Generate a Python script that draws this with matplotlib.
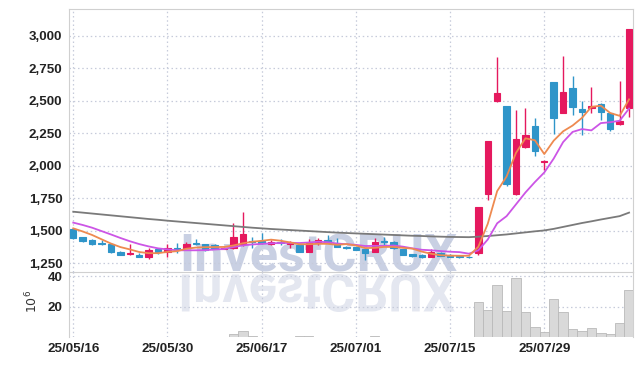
import matplotlib
matplotlib.use("Agg")
import matplotlib.pyplot as plt
import numpy as np
from matplotlib.textpath import TextPath
from matplotlib.patches import PathPatch
from matplotlib.font_manager import FontProperties
from matplotlib.transforms import Affine2D

# ---------------- data ----------------
dates = ['25/05/16', '25/05/30', '25/06/17', '25/07/01', '25/07/15', '25/07/29']
tick_idx = [0, 10, 20, 30, 40, 50]

opens = [1512, 1453, 1427, 1409, 1401, 1339, 1319, 1316, 1296, 1360,
         1334, 1368, 1370, 1409, 1396, 1390, 1362, 1366, 1395, 1420,
         1424, 1399, 1413, 1399, 1393, 1339, 1416, 1429, 1404, 1378,
         1373, 1358, 1336, 1420, 1417, 1358, 1322, 1314, 1298, 1332,
         1314, 1310, 1300, 1331, 1781, 2500, 2461, 1781, 2148, 2307,
         2030, 2644, 2410, 2600, 2438, 2446, 2477, 2407, 2323, 2443]
highs = [1515, 1455, 1437, 1427, 1403, 1341, 1398, 1327, 1370, 1370,
         1396, 1410, 1411, 1435, 1400, 1395, 1372, 1563, 1647, 1455,
         1481, 1430, 1435, 1418, 1396, 1435, 1447, 1468, 1442, 1380,
         1375, 1360, 1442, 1450, 1420, 1360, 1325, 1318, 1360, 1336,
         1318, 1312, 1310, 1685, 2195, 2836, 2461, 2430, 2443, 2366,
         2046, 2644, 2846, 2690, 2500, 2610, 2485, 2410, 2656, 3055]
lows = [1435, 1411, 1393, 1394, 1327, 1312, 1311, 1298, 1285, 1319,
        1301, 1330, 1365, 1393, 1345, 1362, 1358, 1362, 1380, 1366,
        1400, 1392, 1392, 1365, 1334, 1336, 1390, 1405, 1375, 1362,
        1350, 1275, 1334, 1391, 1360, 1312, 1300, 1294, 1296, 1305,
        1296, 1294, 1290, 1314, 1737, 2495, 1845, 1778, 2135, 2076,
        1970, 2245, 2405, 2390, 2238, 2410, 2354, 2270, 2315, 2379]
closes = [1447, 1425, 1401, 1396, 1339, 1316, 1331, 1301, 1352, 1339,
          1365, 1360, 1396, 1396, 1355, 1368, 1366, 1452, 1478, 1414,
          1404, 1414, 1409, 1414, 1337, 1409, 1429, 1409, 1378, 1365,
          1352, 1332, 1417, 1416, 1365, 1316, 1303, 1298, 1334, 1310,
          1300, 1298, 1297, 1681, 2192, 2564, 1858, 2207, 2238, 2117,
          2034, 2372, 2569, 2456, 2413, 2461, 2418, 2285, 2346, 3052]

ma5 = [1519, 1495, 1468, 1435, 1402, 1375, 1357, 1337, 1328, 1328,
       1338, 1343, 1362, 1371, 1374, 1375, 1376, 1387, 1404, 1416,
       1423, 1432, 1424, 1411, 1396, 1397, 1400, 1400, 1392, 1398,
       1387, 1367, 1369, 1376, 1376, 1369, 1363, 1340, 1323, 1312,
       1309, 1308, 1308, 1377, 1554, 1806, 1918, 2100, 2212, 2197,
       2091, 2194, 2266, 2310, 2369, 2454, 2463, 2407, 2385, 2512]
ma10 = [1563, 1545, 1524, 1498, 1472, 1445, 1420, 1398, 1380, 1365,
        1357, 1350, 1350, 1350, 1351, 1356, 1360, 1375, 1388, 1395,
        1399, 1404, 1406, 1407, 1406, 1410, 1416, 1412, 1402, 1397,
        1392, 1383, 1384, 1384, 1387, 1378, 1365, 1354, 1350, 1344,
        1339, 1336, 1324, 1350, 1433, 1558, 1613, 1704, 1795, 1875,
        1949, 2056, 2183, 2261, 2283, 2273, 2329, 2336, 2347, 2441]
ma_long = [1647, 1640, 1633, 1626, 1619, 1612, 1605, 1598, 1591, 1585,
           1578, 1572, 1566, 1560, 1554, 1548, 1542, 1536, 1530, 1524,
           1519, 1514, 1510, 1506, 1502, 1498, 1494, 1490, 1486, 1483,
           1480, 1477, 1474, 1471, 1468, 1465, 1462, 1460, 1457, 1455,
           1453, 1452, 1451, 1455, 1460, 1466, 1472, 1480, 1488, 1496,
           1503, 1515, 1530, 1545, 1560, 1573, 1587, 1600, 1613, 1640]

volume_m = [0.1, 0.1, 0.1, 0.1, 0.1, 0.1, 0.1, 0.1, 0.1, 0.1,
            0.1, 0.1, 0.1, 0.1, 0.1, 0.1, 0.1, 2.2, 4.1, 0.9,
            0.1, 0.1, 0.1, 0.1, 0.8, 0.8, 0.1, 0.1, 0.1, 0.1,
            0.1, 0.1, 0.6, 0.1, 0.1, 0.5, 0.1, 0.1, 0.5, 0.1,
            0.1, 0.1, 0.1, 22.9, 17.9, 34.2, 17.2, 38.6, 16.6, 6.5,
            3.5, 24.8, 16.6, 5.4, 4.1, 5.9, 2.8, 2.2, 9.2, 30.9]

price_ticks = [1250, 1500, 1750, 2000, 2250, 2500, 2750, 3000]
vol_ticks = [20, 40]

# ---------------- style ----------------
UP = '#e5195e'
DOWN = '#2f95c9'
GRID = '#c6cbda'
SPINE = '#d0d0d0'
TICKFONT = FontProperties(family=['Liberation Sans', 'DejaVu Sans'], weight='bold', size=9.6)

W, H = 643, 366
fig = plt.figure(figsize=(W / 100, H / 100), dpi=100, facecolor='white')

x_left, x_right = 69.3, 633.3
main_top, split, vol_bottom = 9.3, 272.0, 337.3

ax = fig.add_axes([x_left / W, 1 - split / H, (x_right - x_left) / W, (split - main_top) / H])
axv = fig.add_axes([x_left / W, 1 - vol_bottom / H, (x_right - x_left) / W, (vol_bottom - split) / H], sharex=ax)
for a in (ax, axv):
    a.set_facecolor('none')
    a.set_axisbelow(True)

n = len(closes)
x = np.arange(n)
o = np.array(opens, float); c = np.array(closes, float)
h = np.array(highs, float); l = np.array(lows, float)
colors = [UP if cc >= oo else DOWN for oo, cc in zip(o, c)]

# watermark (behind everything)
wm_font = FontProperties(family=['Roboto', 'DejaVu Sans'], weight='bold')
fig.text(318.5 / W, 1 - 271.7 / H, 'InvestCRUX', fontproperties=wm_font, fontsize=37.5,
         color='#c9d0e3', ha='center', va='baseline', zorder=-2)
tp = TextPath((0, 0), 'InvestCRUX', size=52.0, prop=wm_font)
ext = tp.get_extents()
cx = (ext.x0 + ext.x1) / 2
tr = Affine2D().translate(-cx, 0).scale(1, -1).translate(318.5, H - 274.5)
fig.add_artist(PathPatch(tp, transform=tr, facecolor='#e4e7f0', edgecolor='none', zorder=-2))

# candles
ax.vlines(x, l, h, colors=colors, linewidth=1.0, zorder=3)
body_bottom = np.minimum(o, c)
body_h = np.abs(c - o)
ax.bar(x, body_h, bottom=body_bottom, width=0.68, color=colors, edgecolor=colors,
       linewidth=0.8, zorder=4)

# moving averages
ax.plot(x, ma_long, color='#7a7a7a', linewidth=1.3, zorder=5)
ax.plot(x, ma10, color='#cc55e6', linewidth=1.3, zorder=5)
ax.plot(x, ma5, color='#ee8a50', linewidth=1.3, zorder=6)

ax.set_xlim(-0.42, 59.45)
ax.set_ylim(1183, 3205)
ax.set_yticks(price_ticks)
ax.set_yticklabels([f'{v:,}' for v in price_ticks])
ax.grid(True, color=GRID, linestyle=(0, (1.2, 2.2)), linewidth=0.9)
ax.tick_params(axis='both', length=0, colors='#222222', pad=5)
ax.tick_params(axis='x', labelbottom=False)
for lab in ax.get_yticklabels():
    lab.set_fontproperties(TICKFONT)
for s in ax.spines.values():
    s.set_color(SPINE)
    s.set_linewidth(0.8)

# volume
axv.bar(x, volume_m, width=1.0, color='#d9d9d9', edgecolor='#b9b9b9', linewidth=0.6, zorder=3)
axv.set_ylim(0, 42.7)
axv.set_yticks(vol_ticks)
axv.set_yticklabels([str(v) for v in vol_ticks])
axv.set_xticks(tick_idx)
axv.set_xticklabels(dates)
axv.grid(True, color=GRID, linestyle=(0, (1.2, 2.2)), linewidth=0.9)
axv.tick_params(axis='both', length=0, colors='#222222', pad=5)
axv.tick_params(axis='x', pad=4)
for lab in axv.get_yticklabels() + axv.get_xticklabels():
    lab.set_fontproperties(TICKFONT)
for k, s in axv.spines.items():
    s.set_color(SPINE)
    s.set_linewidth(0.8)
axv.spines['top'].set_visible(False)
axv.spines['bottom'].set_visible(False)

fig.text(31.6 / W, 1 - 301.7 / H, r'$10^6$', rotation=90, fontsize=9, color='#333333',
         ha='center', va='center')

fig.savefig('out.png', dpi=100, facecolor='white')
